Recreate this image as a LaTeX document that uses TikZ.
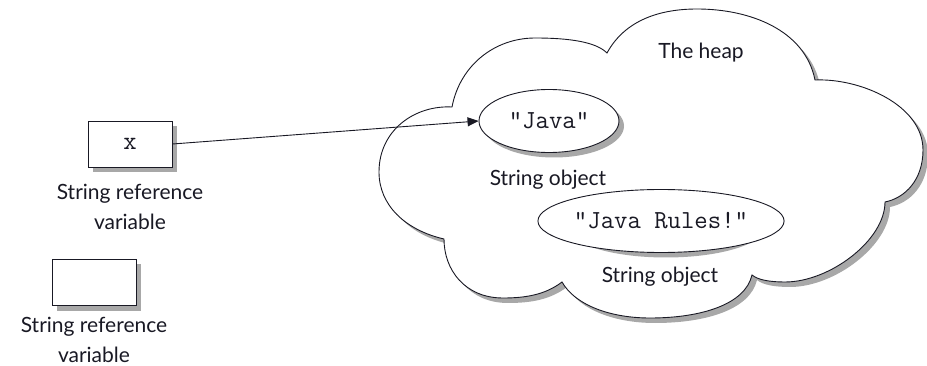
\documentclass[tikz,border=0pt]{standalone}
\usepackage{fontspec}
\setmainfont{Lato}
\usetikzlibrary{arrows.meta,shapes.geometric,backgrounds}

\definecolor{ink}{rgb}{0.10,0.10,0.14}
\definecolor{shadowgray}{rgb}{0.66,0.66,0.66}

\tikzset{
  outline/.style={draw=ink, line width=0.9pt},
  shade/.style={fill=shadowgray, draw=none},
  off/.style={shift={(5,5)}},
  refbox/.style={outline, fill=white, rectangle,
    minimum width=84pt, minimum height=46pt, inner sep=0pt,
    font=\fontsize{26}{26}\ttfamily, text=ink},
  strobj/.style={outline, fill=white, ellipse, inner sep=0pt,
    minimum height=63pt, font=\fontsize{26}{26}\ttfamily, text=ink},
  caption/.style={font=\fontsize{21}{30}\selectfont, align=center,
    inner sep=0pt, text=ink},
  ptr/.style={draw=ink, line width=0.9pt, -{Triangle[length=11pt,width=9pt]}}
}

\begin{document}
\begin{tikzpicture}[x=1pt,y=-1pt]
\useasboundingbox (0,0) rectangle (927,366);

% string objects on the heap
\node[strobj, minimum width=140pt] (java) at (549,121) {“Java”};
\node[caption] (javalbl) at (548,180) {String object};

\node[strobj, minimum width=200pt] (rules) at (661,221) {“Java Rules!”};
\node[caption] (ruleslbl) at (660,277) {String object};

\node[caption] (heap) at (701,53) {The heap};

% reference variables
\node[refbox] (x) at (130,144) {x};
\node[caption] (xlbl) at (130,207) {String reference\\variable};

\node[refbox] (empty) at (94,282.5) {};
\node[caption] (emptylbl) at (94,340) {String reference\\variable};

% x refers to "Java"
\draw[ptr] (x.east) -- (java.west);

\begin{scope}[on background layer]
  % outline of the heap: a cloud of seven bumps
  \def\heapoutline{
    (452,107) .. controls (460,65) and (495,38) .. (535,38)
              .. controls (570,38) and (596,42) .. (607,53)
              .. controls (625,20) and (660,9) .. (697,9)
              .. controls (750,9) and (805,30) .. (815,80)
              .. controls (860,78) and (923,105) .. (923,150)
              .. controls (923,180) and (905,198) .. (885,202)
              .. controls (885,240) and (830,282) .. (785,282)
              .. controls (770,282) and (758,280) .. (752,275)
              .. controls (745,305) and (700,318) .. (650,318)
              .. controls (610,318) and (575,305) .. (562,282)
              .. controls (545,295) and (525,298) .. (503,298)
              .. controls (465,298) and (444,270) .. (444,239)
              .. controls (405,230) and (379,205) .. (379,172)
              .. controls (379,130) and (415,105) .. (452,107)
    -- cycle}
  \fill[shade, off] \heapoutline;
  \path[outline, fill=white] \heapoutline;

  % drop shadows of the objects and the reference boxes
  \fill[shade] ([off]java.center) ellipse [x radius=70, y radius=31.5];
  \fill[shade] ([off]rules.center) ellipse [x radius=100, y radius=31.5];
  \fill[shade] ([off]x.south west) rectangle ([off]x.north east);
  \fill[shade] ([off]empty.south west) rectangle ([off]empty.north east);
\end{scope}
\end{tikzpicture}
\end{document}
